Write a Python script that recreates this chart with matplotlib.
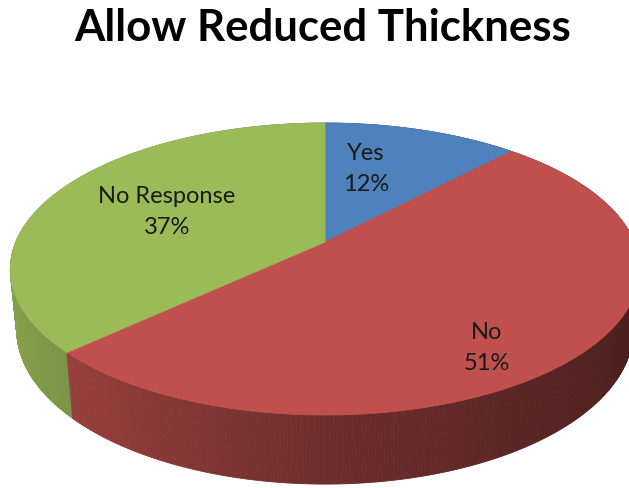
import numpy as np
import matplotlib
matplotlib.use("Agg")
import matplotlib.pyplot as plt
from matplotlib.patches import Polygon

# ---- data ----
title = "Allow Reduced Thickness"
categories = ["Yes", "No", "No Response"]
values = [12, 51, 37]
colors = ["#4F81BD", "#C0504D", "#9BBB59"]

# ---- label layout (pie-plane radius / angle shift from slice middle) ----
label_radius = [0.60, 0.80, 0.58]
label_shift_deg = [-7.5, 10.0, 0.0]

W, H = 629, 488
fig = plt.figure(figsize=(W / 100, H / 100), dpi=100)
ax = fig.add_axes([0, 0, 1, 1])
ax.set_xlim(0, W)
ax.set_ylim(H, 0)
ax.axis("off")

# ---- perspective projection of a 3D pie ----
elev = np.arctan(0.5)
c, s = np.cos(elev), np.sin(elev)
d = 5.405 * c
fx, fy = 1495, 1524
cx, cy = 325, 242
depth = 0.217


def proj(x, y, z):
    D = d + y * c - z * s
    u = cx + fx * x / D
    v = cy - fy * (z * c + y * s) / D
    return u, v, D


def shade(col, nx):
    rgb = np.array(matplotlib.colors.to_rgb(col))
    f = 0.57 + (0.30 if nx < 0 else 0.19) * (-nx)
    return tuple(np.clip(rgb * f, 0, 1))


total = float(sum(values))
fracs = np.array(values) / total
starts = np.concatenate([[0], np.cumsum(fracs)[:-1]]) * 2 * np.pi
ends = np.cumsum(fracs) * 2 * np.pi

# side walls (painter's algorithm)
quads = []
for st, en, col in zip(starts, ends, colors):
    n = max(int(np.degrees(en - st) / 0.5), 2)
    th = np.linspace(st, en, n + 1)
    for a, b in zip(th[:-1], th[1:]):
        pts = []
        for t, z in ((a, 0), (b, 0), (b, -depth), (a, -depth)):
            u, v, _ = proj(np.sin(t), np.cos(t), z)
            pts.append((u, v))
        m = 0.5 * (a + b)
        _, _, Dm = proj(np.sin(m), np.cos(m), -depth / 2)
        quads.append((Dm, pts, shade(col, np.sin(m))))
quads.sort(key=lambda q: -q[0])
for _, pts, fc in quads:
    ax.add_patch(Polygon(pts, closed=True, facecolor=fc, edgecolor=fc,
                         linewidth=0.6, antialiased=True))

# top faces
apex = proj(0, 0, 0)[:2]
for st, en, col in zip(starts, ends, colors):
    th = np.linspace(st, en, 200)
    pts = [apex] + [proj(np.sin(t), np.cos(t), 0)[:2] for t in th]
    ax.add_patch(Polygon(pts, closed=True, facecolor=col, edgecolor=col,
                         linewidth=0.6))

# labels
for cat, val, st, en, r, sh in zip(categories, values, starts, ends,
                                   label_radius, label_shift_deg):
    m = 0.5 * (st + en) + np.radians(sh)
    u, v, _ = proj(r * np.sin(m), r * np.cos(m), 0)
    ax.text(u, v + 1, f"{cat}\n{val/total*100:.0f}%", ha="center", va="center",
            fontsize=17, family="Lato", color="#1a1a1a", linespacing=1.62)

fig.text(0.5135, 1 - 28 / H, title, ha="center", va="center",
         fontsize=31.5, fontweight="bold", family="Lato", color="black")

fig.savefig("out.png", dpi=100, facecolor="white")
